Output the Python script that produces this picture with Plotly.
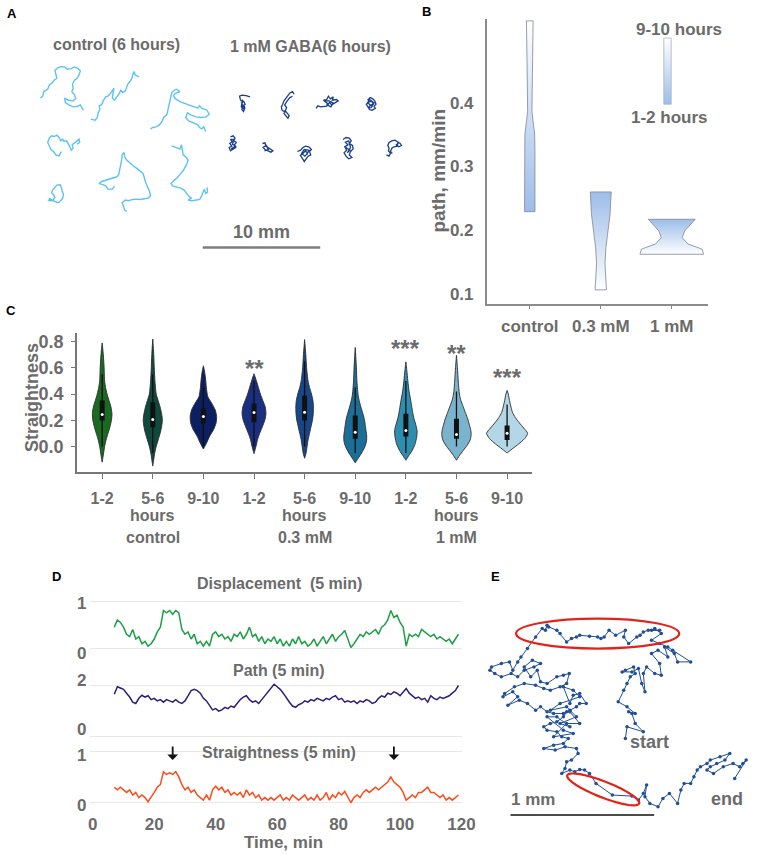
import math
import plotly.graph_objects as go

W, H = 767, 854
GRAY = "#6b6b6b"
FONT = "Arial, 'Liberation Sans', Helvetica, sans-serif"

# ---------------- Panel A: tracks in camera pixels (36 px = 1 mm) ----------------
A_PX_PER_MM = 36.0
A_SCALE_MM = 10
A_CTRL_TRACKS = [
    [(118,292),(125,285),(128,272),(140,265),(145,252),(155,245),(160,238),(168,232),(165,220),(162,208),(172,200),(180,197),(192,198),(200,205),(212,203),(222,198),(232,202),(240,210),(236,222),(230,232),(222,238),(216,250),(218,262),(214,272),(222,282),(226,293),(218,300),(204,298),(192,292),(194,305),(205,312),(218,318),(232,316),(240,312),(244,320),(250,328)],
    [(272,355),(285,358),(292,350),(295,335),(300,325),(298,315),(305,312),(310,300),(318,288),(325,285),(332,278),(338,268),(343,262),(340,278),(338,292),(345,298),(352,290),(358,280),(364,268),(370,275),(378,270),(382,260),(385,250),(392,242),(398,232),(402,218),(405,212),(408,222),(414,225),(420,228)],
    [(455,385),(462,380),(472,378),(482,372),(490,362),(495,350),(505,342),(508,330),(512,315),(515,300),(518,285),(520,275),(528,268),(535,265),(545,272),(530,278),(525,285),(533,295),(545,302),(558,308),(572,312),(590,318),(600,322),(605,315),(612,322),(628,328),(635,340),(625,348),(610,350),(595,348),(578,342),(568,336),(563,350),(572,360),(588,366),(600,372),(605,380),(612,384),(618,378),(624,392)],
    [(182,452),(175,465),(165,462),(158,452),(150,446),(145,436),(140,425),(145,412),(152,405),(160,407),(168,403),(175,410),(180,420),(186,415),(190,422),(198,420),(203,428),(208,438),(212,448),(218,442),(215,432),(222,425),(230,420),(236,415),(238,425),(230,430)],
    [(140,598),(150,600),(158,596),(162,590),(158,582),(152,576),(155,568),(162,560),(168,553),(178,552),(182,560),(184,570),(188,580),(186,592),(180,600),(172,606),(162,603),(152,598),(145,592),(148,602)],
    [(345,556),(338,565),(325,565),(318,555),(305,550),(297,548),(305,542),(318,538),(328,536),(340,532),(352,528),(358,520),(362,505),(364,490),(367,475),(368,462),(374,455),(376,468),(382,478),(392,488),(402,495),(412,502),(422,510),(432,518),(436,530),(440,545),(446,558),(452,572),(455,585),(448,592),(436,594),(424,596),(412,595),(400,596),(388,600),(378,598),(368,606),(372,618),(376,628),(382,632)],
    [(520,435),(532,440),(545,445),(550,432),(552,448),(555,462),(565,470),(570,478),(566,490),(560,500),(555,510),(546,520),(538,530),(528,538),(518,548),(524,556),(536,560),(548,562),(558,568),(566,578),(572,586),(580,592),(570,598),(582,600),(595,598),(606,596),(612,585),(618,572),(620,565),(624,578),(630,574),(628,560)],
]
A_GABA_TRACKS = [
    [(760,288),(748,284),(735,283),(728,286),(730,295),(733,300),(738,298),(736,308),(733,318),(738,322),(742,312),(744,322),(740,332),(735,326),(737,316),(745,310),(741,302),(734,306),(739,316),(742,328)],
    [(895,280),(890,272),(882,276),(875,284),(868,292),(864,300),(860,310),(856,318),(858,328),(865,332),(870,326),(864,338),(870,345),(876,352),(880,344),(874,336),(868,330),(872,320),(866,312),(874,300),(882,290),(890,286)],
    [(962,322),(968,315),(976,318),(986,318),(995,316),(1000,310),(992,304),(985,298),(995,296),(1000,286),(1006,294),(1015,288),(1012,298),(1025,296),(1030,300),(1018,306),(1010,312),(1004,305),(996,312),(1008,318),(1014,306),(1002,300),(990,300)],
    [(1120,298),(1128,290),(1136,294),(1142,300),(1146,310),(1140,316),(1144,322),(1134,328),(1126,326),(1120,318),(1116,310),(1124,304),(1132,300),(1138,310),(1128,314),(1122,322),(1132,320),(1140,306),(1126,296),(1120,306),(1134,316)],
    [(700,408),(708,405),(714,412),(710,420),(718,425),(712,432),(716,440),(708,446),(700,450),(696,440),(704,436),(698,428),(706,422),(700,416),(712,416),(706,430),(716,436),(702,444)],
    [(798,428),(806,426),(808,436),(814,440),(822,444),(830,450),(824,454),(812,450),(806,446),(800,440),(810,434),(816,446),(804,450)],
    [(905,452),(915,448),(922,440),(930,436),(940,438),(948,446),(942,452),(946,462),(938,466),(932,474),(926,482),(920,472),(914,464),(922,458),(930,450),(936,458),(928,466),(918,458),(926,446),(940,448),(934,462)],
    [(1045,416),(1054,410),(1064,412),(1070,420),(1064,428),(1074,434),(1076,444),(1068,452),(1064,462),(1072,470),(1062,474),(1054,466),(1048,456),(1056,448),(1050,438),(1060,432),(1052,424),(1062,420),(1068,440),(1058,456),(1066,448),(1054,440)],
    [(1178,462),(1186,466),(1190,458),(1184,450),(1186,442),(1182,434),(1186,425),(1194,420),(1204,418),(1212,424),(1220,428),(1224,434),(1216,438),(1208,432),(1214,426),(1210,436),(1196,440),(1190,452),(1196,458)],
]

# ---------------- Panel B: path (mm/min), violin profiles ----------------
B_GROUPS = ["control", "0.3 mM", "1 mM"]
B_CTRL_Y = [0.229, 0.300, 0.324, 0.351, 0.372, 0.387, 0.455, 0.529]
B_CTRL_W = [5.3, 5.4, 5.3, 5.0, 3.3, 2.2, 2.7, 3.4]
B_03_Y = [0.106, 0.126, 0.147, 0.173, 0.199, 0.225, 0.260]
B_03_W = [5.8, 5.0, 4.3, 5.3, 7.2, 9.5, 10.7]
B_1_Y = [0.162, 0.170, 0.178, 0.188, 0.199, 0.217]
B_1_W = [32.5, 31.0, 16.7, 10.7, 13.3, 24.0]
B_EARLY = [0.229, 0.260, 0.217]   # value at 1-2 hours
B_LATE = [0.529, 0.106, 0.162]    # value at 9-10 hours

# ---------------- Panel C: straightness violins ----------------
C_TICKS = ["1-2", "5-6", "9-10"] * 3
C_GROUPS = ["control", "0.3 mM", "1 mM"]
C_COLORS = ["#1a6b22", "#0f4a3c", "#0d1f63", "#1a2f80", "#16478a", "#1b6e98", "#2e8eb0", "#7ab4cc", "#b3d7e6"]
C_Y = [
    [-0.12,-0.05,0.0,0.05,0.1,0.15,0.2,0.25,0.3,0.35,0.4,0.45,0.5,0.6,0.7,0.79],
    [-0.15,-0.1,-0.05,0.0,0.05,0.1,0.15,0.2,0.25,0.3,0.35,0.4,0.5,0.6,0.7,0.82],
    [-0.02,0.03,0.08,0.13,0.18,0.23,0.28,0.33,0.38,0.45,0.52,0.58,0.615],
    [-0.055,0.0,0.05,0.1,0.15,0.2,0.25,0.3,0.35,0.4,0.45,0.5,0.555],
    [-0.09,-0.05,0.0,0.05,0.1,0.15,0.2,0.25,0.3,0.35,0.4,0.45,0.5,0.6,0.7,0.815],
    [-0.125,-0.09,-0.05,0.0,0.04,0.08,0.12,0.16,0.2,0.25,0.3,0.35,0.4,0.5,0.6,0.755],
    [-0.105,-0.07,-0.03,0.02,0.07,0.12,0.17,0.22,0.28,0.35,0.42,0.5,0.58,0.645],
    [-0.105,-0.07,-0.03,0.01,0.05,0.09,0.13,0.17,0.21,0.25,0.3,0.35,0.4,0.5,0.6,0.695],
    [-0.05,-0.02,0.02,0.06,0.1,0.14,0.18,0.22,0.26,0.3,0.35,0.4,0.427],
]
C_W = [
    [0,1.5,2.5,4,6,8,9.5,10,9,7,5,3.5,2.5,2,1.2,0],
    [0,1,2,3.5,5.5,7.5,9,9.8,9,7.5,5.5,3.5,2.2,1.5,1,0],
    [0,3.5,6.5,10.5,13,13.5,12,8.5,4.5,3,2.2,1,0],
    [0,2,3.5,5.8,8.5,11,12.2,11.5,9,6.5,4.5,2.5,0],
    [0,1.5,2.5,3.5,5,6.5,8,8.8,9,8.5,7,5,3.5,2,1.2,0],
    [0,3,6.5,10,11.5,11.7,11,10.3,9.5,7.8,5.8,4,2.8,1.7,1.2,0],
    [0,3,6.5,9.5,11,11.5,10,8,6.5,5,3.3,2,1,0],
    [0,3,7,11,14,15,14.5,13,11.5,9.5,7,4.5,3,1.8,1,0],
    [0,5,12,18,21,17,12.5,8.5,5.5,4,2.5,1.2,0],
]
C_Q1 = [0.198, 0.147, 0.175, 0.185, 0.198, 0.059, 0.076, 0.059, 0.05]
C_Q3 = [0.350, 0.338, 0.290, 0.328, 0.389, 0.236, 0.249, 0.211, 0.16]
C_MED = [0.244, 0.206, 0.229, 0.259, 0.261, 0.109, 0.122, 0.091, 0.10]
C_WLO = [0.0, -0.05, 0.0, 0.0, 0.0, -0.05, -0.05, 0.0, 0.0]
C_WHI = [0.55, 0.55, 0.45, 0.5, 0.65, 0.45, 0.5, 0.42, 0.32]
C_STARS = {3: ("**", 0.648), 6: ("***", 0.802), 7: ("**", 0.762), 8: ("***", 0.579)}

# ---------------- Panel D: 5-min sliding measures ----------------
D_T = list(range(7, 120))
D_DISP = [0.45,0.6,0.55,0.45,0.3,0.25,0.4,0.2,0.25,0.1,
          0.15,0.05,0.1,0.2,0.35,0.45,0.8,0.75,0.8,0.72,
          0.8,0.75,0.4,0.3,0.35,0.2,0.3,0.1,0.15,0.05,
          0.15,0.05,0.3,0.35,0.25,0.3,0.2,0.25,0.15,0.3,
          0.25,0.35,0.2,0.3,0.45,0.25,0.3,0.15,0.25,0.1,
          0.2,0.15,0.25,0.1,0.2,0.05,0.15,0.05,0.2,0.1,
          0.25,0.1,0.15,0.05,0.1,0.2,0.05,0.15,0.25,0.1,
          0.2,0.3,0.15,0.25,0.3,0.38,0.2,0.02,0.1,0.2,
          0.3,0.25,0.35,0.3,0.35,0.4,0.3,0.45,0.5,0.6,
          0.8,0.65,0.7,0.55,0.45,0.05,0.3,0.25,0.3,0.25,
          0.4,0.35,0.3,0.25,0.3,0.2,0.25,0.2,0.15,0.2,
          0.1,0.2,0.3]
D_PATH = [1.66,1.95,1.9,1.85,1.7,1.55,1.35,1.3,1.5,1.62,
          1.55,1.6,1.45,1.5,1.4,1.45,1.35,1.45,1.4,1.35,
          1.45,1.35,1.3,1.4,1.6,1.8,1.85,1.8,1.7,1.5,
          1.4,1.2,1.05,1.1,1.0,1.05,1.15,1.1,1.2,1.15,
          1.3,1.45,1.55,1.6,1.45,1.35,1.4,1.3,1.45,1.6,
          1.75,1.9,2.05,1.95,1.85,1.7,1.5,1.35,1.2,1.15,
          1.25,1.3,1.4,1.35,1.45,1.4,1.5,1.45,1.4,1.5,
          1.45,1.55,1.6,1.45,1.5,1.35,1.4,1.35,1.4,1.3,
          1.4,1.35,1.45,1.4,1.3,1.35,1.5,1.6,1.55,1.7,
          1.65,1.75,1.7,1.6,1.75,1.88,1.7,1.6,1.5,1.55,
          1.45,1.5,1.35,1.6,1.5,1.45,1.55,1.5,1.55,1.6,
          1.7,1.8,2.0]
D_STRA = [0.3,0.25,0.3,0.25,0.2,0.25,0.15,0.2,0.1,0.15,
          0.1,0.02,0.1,0.2,0.3,0.35,0.6,0.55,0.58,0.55,
          0.6,0.5,0.35,0.25,0.3,0.2,0.25,0.15,0.1,0.05,
          0.15,0.05,0.25,0.32,0.25,0.3,0.2,0.25,0.15,0.2,
          0.15,0.2,0.1,0.25,0.15,0.2,0.1,0.15,0.05,0.1,
          0.05,0.1,0.05,0.1,0.15,0.05,0.1,0.05,0.15,0.1,
          0.05,0.1,0.15,0.05,0.1,0.05,0.15,0.05,0.1,0.2,
          0.05,0.15,0.1,0.2,0.15,0.22,0.1,0.0,0.1,0.15,
          0.1,0.2,0.25,0.2,0.25,0.3,0.25,0.3,0.35,0.4,
          0.5,0.4,0.35,0.3,0.2,0.05,0.1,0.15,0.1,0.2,
          0.2,0.25,0.3,0.2,0.2,0.15,0.1,0.15,0.05,0.1,
          0.05,0.1,0.15]
D_ARROW_T = [26, 98]
D_YTICKS = [["1", "0"], ["2", "0"], ["1", "0"]]

# ---------------- Panel E: track in camera pixels (440 px = 1 mm) ----------------
E_PX_PER_MM = 440.0
E_TRACK = [(440,625),(445,590),(495,605),(470,580),(460,550),(450,545),(470,550),(445,530),(418,515),(435,480),
           (445,460),(455,440),(470,430),(465,410),(440,420),(430,425),(460,425),(480,415),(490,460),(500,485),
           (495,430),(505,410),(530,430),(550,435),(545,400),(520,370),(540,360),(570,380),(560,350),(590,370),
           (600,395),(640,395),(585,360),(570,350),(545,340),(520,330),(550,310),(530,295),(520,300),(545,300),
           (510,300),(495,305),(485,315),(475,320),(450,340),(435,320),(440,300),(410,315),(390,300),(375,320),
           (365,325),(355,320),(330,318),(300,315),(290,320),(275,325),(260,335),(240,310),(230,300),(205,290),
           (200,285),(195,300),(185,295),(165,320),(140,355),(120,380),(110,395),(95,420),(85,395),(60,400),
           (30,410),(25,420),(40,430),(60,440),(90,430),(110,440),(130,420),(160,410),(180,400),(155,390),
           (130,410),(150,440),(170,420),(180,455),(200,460),(230,440),(250,435),(268,430),(260,460),(240,470),
           (210,480),(190,475),(165,465),(130,460),(100,470),(70,490),(65,500),(95,485),(110,500),(80,525),
           (115,510),(140,520),(165,540),(180,530),(200,545),(220,550),(250,550),(270,540),(290,530),(300,520),
           (320,520),(300,490),(280,495),(270,520),(250,470),(280,480),(300,500),(240,520),(210,540),(260,530),
           (290,560),(240,580),(270,590),(230,560),(200,560),(250,600),(280,610),(220,620),(260,580),(300,580),
           (270,545),(260,545),(250,560),(230,575),(210,580),(190,590),(200,600),
           (230,605),(245,620),(265,625),(250,640),(220,645),(190,655),(225,660),(255,650),(290,655),(295,670),
           (275,690),(260,695),(255,715),(245,730),(270,720),(285,725),(300,718),(315,720),(330,730),(350,760),
           (400,795),(460,798),(480,810),(495,790),(505,765),(500,800),(515,820),(540,830),(555,805),(575,790),
           (600,820),(610,780),(620,760),(640,760),(650,740),(660,720),(670,710),(690,700),(700,690),(730,680),
           (760,670),(745,690),(720,700),(700,710),(690,720),(710,730),(740,710),(770,700),(790,710),(800,700),
           (810,690),(775,745)]
E_SCALE_MM = 1.0


# ============ helpers ============
def fx(px):
    return px / W


def fy(py):
    return 1 - py / H


def bold(size, color=GRAY):
    return dict(family=FONT, size=size, color=color, weight="bold")


fig = go.Figure()
annotations = []
shapes = []


def note(x, y, text, font, xref="paper", yref="paper", **kw):
    d = dict(x=x, y=y, xref=xref, yref=yref, text=text, showarrow=False, font=font,
             xanchor="center", yanchor="middle")
    d.update(kw)
    annotations.append(d)


# ---------------- Panel A ----------------
A_LIGHT = "#5cc3f2"
A_DARK = "#1b3f8b"
for tr in A_CTRL_TRACKS:
    fig.add_trace(go.Scatter(x=[p[0] / A_PX_PER_MM for p in tr], y=[p[1] / A_PX_PER_MM for p in tr],
                             mode="lines", line=dict(color=A_LIGHT, width=1.4), xaxis="x", yaxis="y",
                             hoverinfo="skip"))
for tr in A_GABA_TRACKS:
    fig.add_trace(go.Scatter(x=[p[0] / A_PX_PER_MM for p in tr], y=[p[1] / A_PX_PER_MM for p in tr],
                             mode="lines", line=dict(color=A_DARK, width=1.3), xaxis="x", yaxis="y",
                             hoverinfo="skip"))
a_bar_x0 = 615 / A_PX_PER_MM
a_bar_y = 740 / A_PX_PER_MM
fig.add_trace(go.Scatter(x=[a_bar_x0, a_bar_x0 + A_SCALE_MM], y=[a_bar_y, a_bar_y], mode="lines",
                         line=dict(color="#7d7d7d", width=2.5), xaxis="x", yaxis="y", hoverinfo="skip"))
note(a_bar_x0 + A_SCALE_MM / 2, a_bar_y, "10 mm", bold(18), xref="x", yref="y", yanchor="bottom", yshift=3)
note(fx(117), fy(44), "control (6 hours)", bold(16))
note(fx(315), fy(46), "1 mM GABA(6 hours)", bold(16))

# ---------------- Panel B ----------------
B_PX_PER_CAT = 72.5
B_BLUE = "#9dbde9"


def violin_path(center, ys, ws, scale):
    xs = [center - w / scale for w in ws] + [center + w / scale for w in reversed(ws)]
    yy = list(ys) + list(reversed(ys))
    xs.append(xs[0])
    yy.append(yy[0])
    return xs, yy


for i, (ys, ws) in enumerate([(B_CTRL_Y, B_CTRL_W), (B_03_Y, B_03_W), (B_1_Y, B_1_W)]):
    xs, yy = violin_path(i, ys, ws, B_PX_PER_CAT)
    early, late = B_EARLY[i], B_LATE[i]
    lo, hi = min(early, late), max(early, late)
    if early < late:
        cs = [[0, B_BLUE], [1, "#ffffff"]]
    else:
        cs = [[0, "#ffffff"], [1, B_BLUE]]
    fig.add_trace(go.Scatter(x=xs, y=yy, mode="lines", fill="toself",
                             fillgradient=dict(type="vertical", colorscale=cs, start=lo, stop=hi),
                             line=dict(color="#7f8796", width=0.8), xaxis="x2", yaxis="y2", hoverinfo="skip"))

# gradient key
key_x, key_hw, key_lo, key_hi = 1.94, 0.052, 0.398, 0.502
fig.add_trace(go.Scatter(x=[key_x - key_hw, key_x + key_hw, key_x + key_hw, key_x - key_hw, key_x - key_hw],
                         y=[key_lo, key_lo, key_hi, key_hi, key_lo], mode="lines", fill="toself",
                         fillgradient=dict(type="vertical", colorscale=[[0, B_BLUE], [1, "#ffffff"]],
                                           start=key_lo, stop=key_hi),
                         line=dict(color="#a9b2bf", width=0.8), xaxis="x2", yaxis="y2", hoverinfo="skip"))
note(fx(691), fy(29), "9-10 hours", bold(17))
note(fx(682), fy(117), "1-2 hours", bold(17))
note(fx(446), fy(170), "path, mm/min", bold(19), textangle=-90)

# ---------------- Panel C ----------------
C_PX_PER_CAT = 51.7
for i in range(9):
    xs, yy = violin_path(i, C_Y[i], C_W[i], C_PX_PER_CAT)
    fig.add_trace(go.Scatter(x=xs, y=yy, mode="lines", fill="toself", fillcolor=C_COLORS[i],
                             line=dict(color="#2a2a2a", width=0.9, shape="spline", smoothing=0.6),
                             xaxis="x3", yaxis="y3", hoverinfo="skip"))
    fig.add_trace(go.Scatter(x=[i, i], y=[C_WLO[i], C_WHI[i]], mode="lines",
                             line=dict(color="#111111", width=1.3), xaxis="x3", yaxis="y3", hoverinfo="skip"))
    fig.add_trace(go.Scatter(x=[i, i], y=[C_Q1[i], C_Q3[i]], mode="lines",
                             line=dict(color="#111111", width=5), xaxis="x3", yaxis="y3", hoverinfo="skip"))
    fig.add_trace(go.Scatter(x=[i], y=[C_MED[i]], mode="markers",
                             marker=dict(color="white", size=3), xaxis="x3", yaxis="y3", hoverinfo="skip"))
for i, (txt, yv) in C_STARS.items():
    note(i, yv, txt, bold(24), xref="x3", yref="y3", yshift=-7)
for k, g in enumerate(C_GROUPS):
    note(3 * k + 1, fy(515), "hours", bold(16), xref="x3")
    note(3 * k + 1, fy(537), g, bold(16), xref="x3")
note(fx(30), fy(397), "Straightness", bold(18), textangle=-90)

# ---------------- Panel D ----------------
D_SERIES = [(D_DISP, "#1f9e46", "x4", "y4", "Displacement  (5 min)", 583),
            (D_PATH, "#2b1f7c", "x5", "y5", "Path (5 min)", 670),
            (D_STRA, "#ff4b1c", "x6", "y6", "Straightness (5 min)", 752)]
for vals, col, xa, ya, title, ty in D_SERIES:
    fig.add_trace(go.Scatter(x=D_T, y=vals, mode="lines", line=dict(color=col, width=1.5),
                             xaxis=xa, yaxis=ya, hoverinfo="skip"))
    note(fx(283), fy(ty), title, bold(16))
# y tick labels of the three strips (the original figure shows them slightly offset from the grid lines)
D_YLABEL_PX = [(603, 653), (680, 729), (755, 805)]
for labels, rows in zip(D_YTICKS, D_YLABEL_PX):
    for lab, py_ in zip(labels, rows):
        note(fx(81.7), fy(py_), lab, bold(17))
for t in D_ARROW_T:
    annotations.append(dict(x=t, y=0.83, xref="x6", yref="y6", ax=t, ay=1.12, axref="x6", ayref="y6",
                            text="", showarrow=True, arrowhead=1, arrowsize=1.0, arrowwidth=1.8,
                            arrowcolor="#111111"))
note(fx(287), fy(842), "Time, min", bold(17))

# ---------------- Panel E ----------------
E_COLOR = "#1f4f97"
fig.add_trace(go.Scatter(x=[p[0] / E_PX_PER_MM for p in E_TRACK], y=[p[1] / E_PX_PER_MM for p in E_TRACK],
                         mode="lines+markers", line=dict(color=E_COLOR, width=1),
                         marker=dict(color=E_COLOR, size=3.5), xaxis="x7", yaxis="y7", hoverinfo="skip"))
e_bar_x0 = 88 / E_PX_PER_MM
e_bar_y = 855 / E_PX_PER_MM
fig.add_trace(go.Scatter(x=[e_bar_x0, e_bar_x0 + E_SCALE_MM], y=[e_bar_y, e_bar_y], mode="lines",
                         line=dict(color="#111111", width=1.5), xaxis="x7", yaxis="y7", hoverinfo="skip"))
note(fx(542), fy(799), "1 mm", bold(17))
note(fx(661), fy(742), "start", bold(18))
note(fx(740), fy(799), "end", bold(18))
RED = "#e2231a"
shapes.append(dict(type="circle", xref="x7", yref="y7", x0=105 / E_PX_PER_MM, x1=605 / E_PX_PER_MM,
                   y0=265 / E_PX_PER_MM, y1=355 / E_PX_PER_MM, line=dict(color=RED, width=2.2)))
# rotated ellipse
ecx, ecy, ea, eb, ang = 372 / E_PX_PER_MM, 778 / E_PX_PER_MM, 118 / E_PX_PER_MM, 24 / E_PX_PER_MM, math.radians(21)
pts = []
for k in range(73):
    th = 2 * math.pi * k / 72
    px_ = ecx + ea * math.cos(th) * math.cos(ang) - eb * math.sin(th) * math.sin(ang)
    py_ = ecy + ea * math.cos(th) * math.sin(ang) + eb * math.sin(th) * math.cos(ang)
    pts.append((px_, py_))
path = "M " + " L ".join(f"{a:.4f},{b:.4f}" for a, b in pts) + " Z"
shapes.append(dict(type="path", xref="x7", yref="y7", path=path, line=dict(color=RED, width=2.2)))

# ---------------- panel letters ----------------
for letter, px_, py_ in [("A", 10, 13), ("B", 434, 11), ("C", 9, 310), ("D", 56, 576), ("E", 504, 576)]:
    note(fx(px_), fy(py_), letter, bold(13, "#000000"))

hidden = dict(visible=False, fixedrange=True)
D_X = dict(range=[-0.86, 120], domain=[fx(90), fx(469.3)], showgrid=False, zeroline=False,
           showline=False, ticks="", tickvals=[0, 20, 40, 60, 80, 100, 120], tickfont=bold(17))
D_Y = dict(showgrid=True, gridcolor="#e8e8e8", gridwidth=1, zeroline=False, showline=False,
           ticks="", showticklabels=False)

layout = dict(
    width=W, height=H, margin=dict(l=0, r=0, t=0, b=0), paper_bgcolor="white", plot_bgcolor="rgba(0,0,0,0)",
    showlegend=False, font=dict(family=FONT, color=GRAY),
    xaxis=dict(hidden, domain=[0, fx(430)], range=[0, 430 * 3 / A_PX_PER_MM], anchor="y"),
    yaxis=dict(hidden, domain=[fy(290), 1], range=[290 * 3 / A_PX_PER_MM, 0], anchor="x"),
    xaxis2=dict(domain=[fx(495), fx(721)], range=[-0.607, 2.51], anchor="y2", showgrid=False, zeroline=False,
                showline=True, linecolor="#8c8c8c", linewidth=1.5, tickvals=[0, 1, 2], ticktext=B_GROUPS,
                ticks="outside", ticklen=4, tickcolor="#8c8c8c", tickfont=bold(17), ticklabelstandoff=2),
    yaxis2=dict(domain=[fy(303), fy(18)], range=[0.0843, 0.532], anchor="x2", showgrid=False, zeroline=False,
                showline=True, linecolor="#8c8c8c", linewidth=1.5, tickvals=[0.1, 0.2, 0.3, 0.4],
                ticktext=["0.1", "0.2", "0.3", "0.4"], ticks="", tickfont=bold(17), ticklabelstandoff=8),
    xaxis3=dict(domain=[fx(76.7), fx(541.7)], range=[-0.495, 8.5], anchor="y3", showgrid=False, zeroline=False,
                showline=True, linecolor="#777777", linewidth=2, tickvals=list(range(9)), ticktext=C_TICKS,
                ticks="outside", ticklen=5, tickcolor="#777777", tickfont=bold(16), ticklabelstandoff=6),
    yaxis3=dict(domain=[fy(471.7), fy(332.7)], range=[-0.196, 0.863], anchor="x3", showgrid=False, zeroline=False,
                showline=True, linecolor="#777777", linewidth=2, tickvals=[0, 0.2, 0.4, 0.6, 0.8],
                ticktext=["0.0", "0.2", "0.4", "0.6", "0.8"], ticks="outside", ticklen=4, tickcolor="#777777",
                tickfont=bold(18), ticklabelstandoff=4),
    xaxis4=dict(D_X, anchor="y4", showticklabels=False),
    yaxis4=dict(D_Y, domain=[fy(652), fy(595)], range=[-0.078, 1.12], tickvals=[0, 1], anchor="x4"),
    xaxis5=dict(D_X, anchor="y5", showticklabels=False),
    yaxis5=dict(D_Y, domain=[fy(740), fy(680)], range=[-0.128, 2.206], tickvals=[0, 2], anchor="x5"),
    xaxis6=dict(D_X, anchor="y6", showticklabels=True, ticklabelstandoff=6),
    yaxis6=dict(D_Y, domain=[fy(806), fy(745)], range=[-0.064, 1.116], tickvals=[0, 1], anchor="x6"),
    xaxis7=dict(hidden, domain=[fx(490), 1], range=[0, 831 / E_PX_PER_MM], anchor="y7"),
    yaxis7=dict(hidden, domain=[0, fy(530)], range=[972 / E_PX_PER_MM, 0], anchor="x7"),
    annotations=annotations, shapes=shapes,
)
fig.update_layout(**layout)
fig.write_html("out.html", config={"displayModeBar": False},
               post_script="document.body.style.margin='0px';document.body.style.overflow='hidden';")
